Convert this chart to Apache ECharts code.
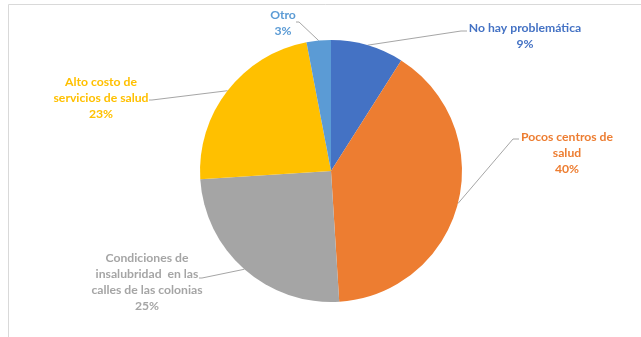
<!DOCTYPE html>
<html>
<head>
<meta charset="utf-8">
<script src="https://cdn.jsdelivr.net/npm/echarts@6/dist/echarts.min.js"></script>
<style>
  html, body { margin: 0; padding: 0; background: #fff; }
  #chart { width: 641px; height: 337px; }
</style>
</head>
<body>
<div id="chart"></div>
<script>
const categories = [
  "No hay problemática",
  "Pocos centros de\nsalud",
  "Condiciones de\ninsalubridad  en las\ncalles de las colonias",
  "Alto costo de\nservicios de salud",
  "Otro"
];
const values = [9, 40, 25, 23, 3];
const colors = ["#4472C4", "#ED7D31", "#A5A5A5", "#FFC000", "#5B9BD5"];

// where each label sits (center x, top y) and where its leader line bends
const labelSpots = [
  { x: 525, y: 20, bend: [[461, 31], [467, 31]] },
  { x: 567, y: 129, bend: [[513, 139], [519, 139]] },
  { x: 147, y: 250, bend: [[202, 278], [199, 278]] },
  { x: 101, y: 74, bend: [[152, 100], [149, 100]] },
  { x: 283, y: 7, bend: [[299, 22], [296, 22]] }
];

const chart = echarts.init(document.getElementById("chart"), null, { renderer: "canvas" });

chart.setOption({
  animation: false,
  backgroundColor: "#fff",
  graphic: [{
    type: "rect",
    shape: { x: 8.5, y: 4.5, width: 700, height: 400 },
    style: { fill: "none", stroke: "#D9D9D9", lineWidth: 1 },
    silent: true
  }],
  series: [{
    type: "pie",
    center: [331, 171],
    radius: 131,
    startAngle: 90,
    clockwise: true,
    itemStyle: { borderWidth: 0 },
    label: {
      show: true,
      position: "outside",
      formatter: "{b}\n{d}%",
      fontFamily: "Lato",
      fontWeight: "bold",
      fontSize: 12.2,
      lineHeight: 16,
      align: "center"
    },
    labelLine: {
      show: true,
      lineStyle: { color: "#A6A6A6", width: 1 }
    },
    labelLayout: (p) => {
      const s = labelSpots[p.dataIndex];
      const start = p.labelLinePoints ? p.labelLinePoints[0] : s.bend[0];
      return {
        x: s.x,
        y: s.y,
        align: "center",
        verticalAlign: "top",
        labelLinePoints: [start, s.bend[0], s.bend[1]]
      };
    },
    data: categories.map((name, i) => ({
      name,
      value: values[i],
      itemStyle: { color: colors[i] },
      label: { color: colors[i] }
    }))
  }]
});
</script>
</body>
</html>
